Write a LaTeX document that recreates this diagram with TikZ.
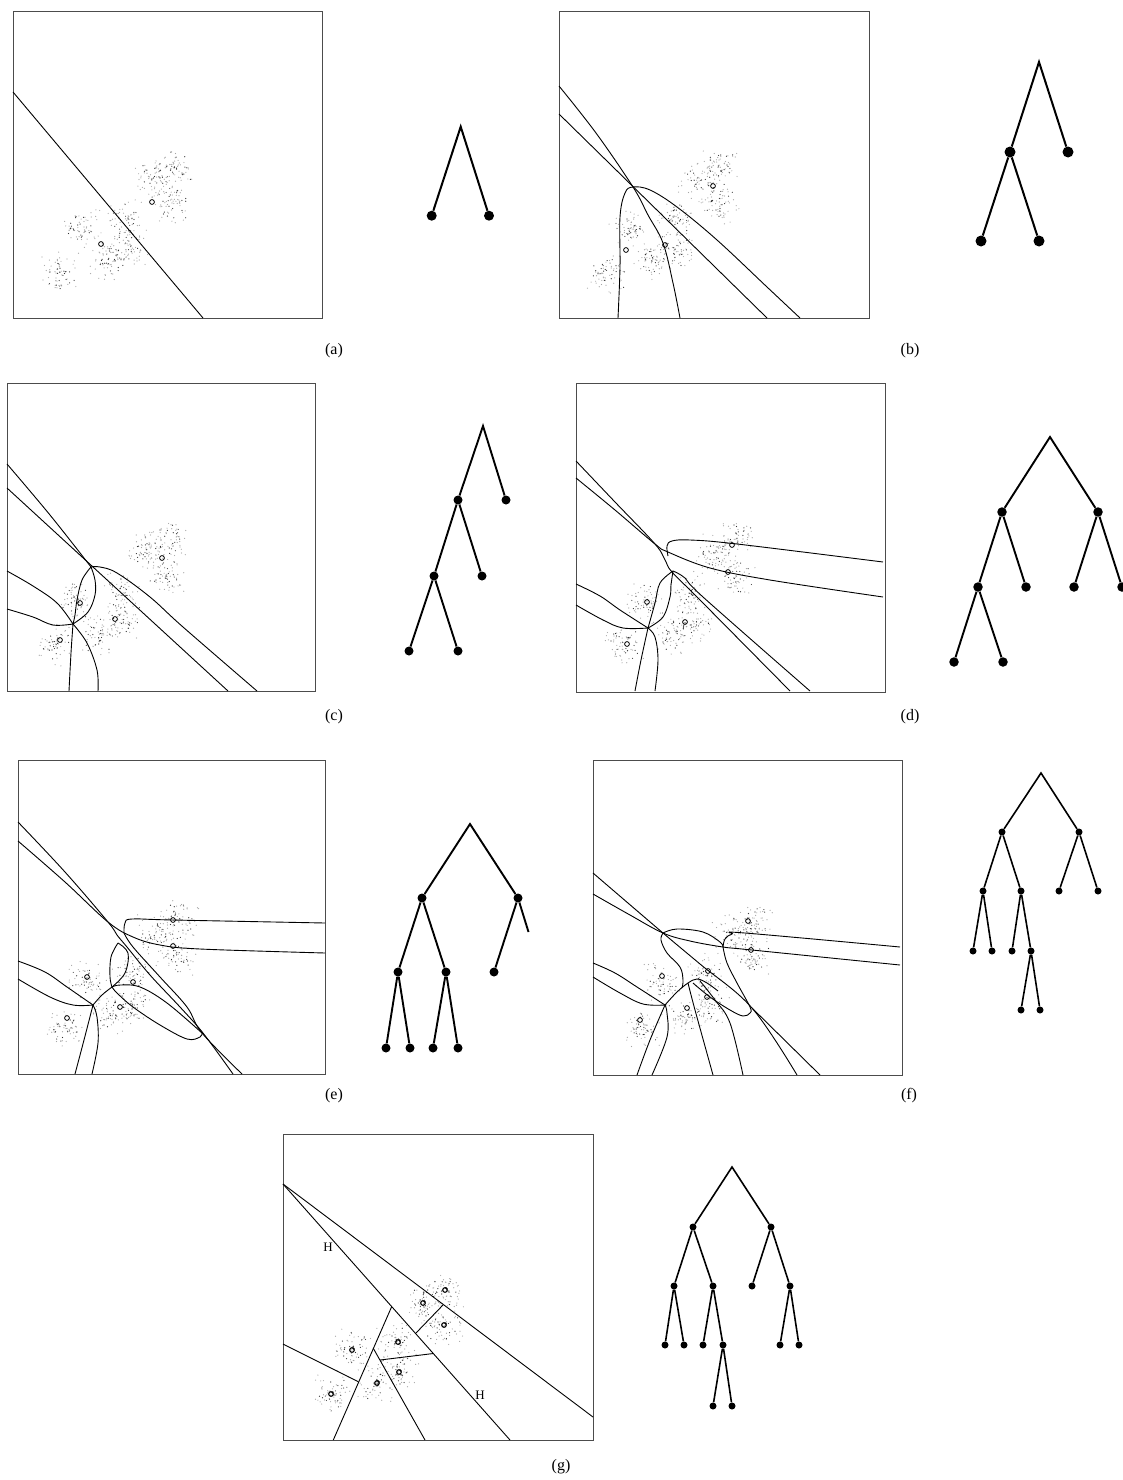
\documentclass[tikz,border=0pt]{standalone}
\usepackage{fontspec}
\setmainfont{Liberation Serif}
\tikzset{
  frame/.style={draw=black!70, line width=0.8pt},
  bnd/.style={line width=0.9pt, black},
  tdot/.style={circle, fill=black, inner sep=0pt, minimum size=#1},
  tdot/.default=9pt,
  tedge/.style={line width=#1, black},
  tedge/.default=1.9pt,
  proto/.style={line width=0.8pt, black},
  caplab/.style={font=\fontsize{16}{18}\selectfont, inner sep=0pt},
  hlab/.style={font=\fontsize{13}{15}\selectfont, inner sep=0pt},
}
\newcommand{\mycloud}[5]{%
  \pgfmathsetseed{#5}%
  \foreach \rx/\ry in {0.523/0.51,0.452/0.552,0.519/0.624,0.371/0.68,0.223/0.706,0.374/0.778,0.303/0.814,0.155/0.85}{%
    \fill[black!35] foreach \i in {1,...,45}{({#1+\rx*#3+11*(rand+rand)},{#2+\ry*#4+11*(rand+rand)}) circle[radius=0.6pt]};
    \fill[black!80] foreach \i in {1,...,20}{({#1+\rx*#3+9*(rand+rand)},{#2+\ry*#4+9*(rand+rand)}) circle[radius=0.6pt]};
  }%
}
\begin{document}
\begin{tikzpicture}[x=1pt,y=-1pt]
\useasboundingbox (0,0) rectangle (1122,1480);
\fill[white] (0,0) rectangle (1122,1480);

% ================= (a) =================
\mycloud{13}{11}{309}{307}{11}
\draw[frame] (13,11) rectangle (322,318);
\draw[bnd] (13,92) -- (203,318);
\foreach \p in {(152,202),(101,244)} \draw[proto] \p circle[radius=2.4pt];
\coordinate (ar) at (460.7,126.7);
\node[tdot=10pt] (a1) at (431.7,215.7) {};
\node[tdot=10pt] (a2) at (489,215.7) {};
\draw[tedge=2pt] (a1) -- (ar) -- (a2);
\node[caplab] (capa) at (334,351) {(a)};

% ================= (b) =================
\mycloud{559}{11}{310}{307}{22}
\draw[frame] (559,11) rectangle (869,318);
\draw[bnd] (559,114) -- (767,318);
\draw[bnd] plot[smooth, tension=0.6] coordinates {(559,86) (596,133) (633,187) (648,215) (663,243) (673,283) (680,318)};
\draw[bnd] plot[smooth, tension=0.6] coordinates {(618,318) (620,267) (620,217) (625,193) (633,187) (650,190) (677,207) (717,240) (767,287) (800,318)};
\foreach \p in {(713,186),(665,245),(626,250)} \draw[proto] \p circle[radius=2.4pt];
\coordinate (br) at (1039,62);
\node[tdot=11pt] (b1) at (1010,152) {};
\node[tdot=11pt] (b2) at (1068,152) {};
\node[tdot=11pt] (b11) at (981,241) {};
\node[tdot=11pt] (b12) at (1039,241) {};
\draw[tedge=2pt] (b1) -- (br) -- (b2);
\draw[tedge=2pt] (b11) -- (b1) -- (b12);
\node[caplab] (capb) at (910,351) {(b)};

% ================= (c) =================
\mycloud{7}{383}{308}{308}{33}
\draw[frame] (7,383) rectangle (315,691);
\draw[bnd] (7,488) -- (228,691);
\draw[bnd] plot[smooth, tension=0.6] coordinates {(7,464) (50,515) (91,567)};
\draw[bnd] plot[smooth, tension=0.6] coordinates {(91,567) (100,567) (117,573) (150,597) (183,627) (257,691)};
\draw[bnd] plot[smooth, tension=0.6] coordinates {(91,567) (82,580) (77,600) (75,615) (73,624)};
\draw[bnd] plot[smooth, tension=0.6] coordinates {(91,567) (95,580) (95,595) (88,612) (73,624)};
\draw[bnd] plot[smooth, tension=0.6] coordinates {(7,571) (33,586) (57,603) (73,624)};
\draw[bnd] plot[smooth, tension=0.6] coordinates {(7,609) (33,617) (53,625) (73,624)};
\draw[bnd] plot[smooth, tension=0.6] coordinates {(73,624) (71,653) (69,691)};
\draw[bnd] plot[smooth, tension=0.6] coordinates {(73,624) (87,643) (97,670) (98,691)};
\foreach \p in {(162,558),(80,603),(115,619),(60,640)} \draw[proto] \p circle[radius=2.4pt];
\coordinate (cr) at (483,426);
\node[tdot] (c1) at (458,500) {};
\node[tdot] (c2) at (506,500) {};
\node[tdot] (c11) at (434,576) {};
\node[tdot] (c12) at (482,576) {};
\node[tdot] (c111) at (409,651) {};
\node[tdot] (c112) at (458,651) {};
\draw[tedge] (c1) -- (cr) -- (c2);
\draw[tedge] (c11) -- (c1) -- (c12);
\draw[tedge] (c111) -- (c11) -- (c112);
\node[caplab] (capc) at (334,717) {(c)};

% ================= (d) =================
\mycloud{576}{383}{309}{309}{44}
\draw[frame] (576,383) rectangle (885,692);
\draw[bnd] plot[smooth, tension=0.6] coordinates {(576,461) (615,502) (655,544) (665,560) (672,572) (700,600) (790,691)};
\draw[bnd] plot[smooth, tension=0.6] coordinates {(576,478) (615,510) (655,544) (668,552) (710,568) (770,580) (883,597)};
\draw[bnd] plot[smooth, tension=0.6] coordinates {(668,556) (667,546) (672,541) (690,540) (737,544) (883,562)};
\draw[bnd] plot[smooth, tension=0.6] coordinates {(673,571) (660,583) (655,603) (648,628)};
\draw[bnd] plot[smooth, tension=0.6] coordinates {(673,571) (671,585) (670,597) (663,617) (648,628)};
\draw[bnd] plot[smooth, tension=0.6] coordinates {(673,571) (685,578) (703,597) (810,691)};
\draw[bnd] plot[smooth, tension=0.6] coordinates {(648,628) (641,660) (635,691)};
\draw[bnd] plot[smooth, tension=0.6] coordinates {(648,628) (655,637) (658,660) (655,691)};
\draw[bnd] plot[smooth, tension=0.6] coordinates {(576,584) (600,596) (620,610) (648,628)};
\draw[bnd] plot[smooth, tension=0.6] coordinates {(576,605) (603,620) (623,628) (648,628)};
\foreach \p in {(732,545),(728,572),(647,602),(685,622),(627,644)} \draw[proto] \p circle[radius=2.4pt];
\coordinate (dr) at (1050,437);
\node[tdot=9.5pt] (d1) at (1002,512) {};
\node[tdot=9.5pt] (d2) at (1098,512) {};
\node[tdot=9.5pt] (d11) at (978,587) {};
\node[tdot=9.5pt] (d12) at (1026,587) {};
\node[tdot=9.5pt] (d21) at (1074,587) {};
\node[tdot=9.5pt] (d22) at (1122,587) {};
\node[tdot=9.5pt] (d111) at (954,662) {};
\node[tdot=9.5pt] (d112) at (1003,662) {};
\draw[tedge] (d1) -- (dr) -- (d2);
\draw[tedge] (d11) -- (d1) -- (d12);
\draw[tedge] (d21) -- (d2) -- (d22);
\draw[tedge] (d111) -- (d11) -- (d112);
\node[caplab] (capd) at (910,717) {(d)};

% ================= (e) =================
\mycloud{18}{760}{307}{314}{55}
\draw[frame] (18,760) rectangle (325,1074);
\draw[bnd] plot[smooth, tension=0.6] coordinates {(18,822) (65,872) (108,922) (117,935) (127,947) (150,975) (180,1007) (203,1033) (233,1074)};
\draw[bnd] plot[smooth, tension=0.6] coordinates {(18,841) (65,882) (108,922) (133,937) (160,945) (200,949) (325,953)};
\draw[bnd] plot[smooth, tension=0.6] coordinates {(124,933) (125,923) (132,919) (173,920) (325,923)};
\draw[bnd] plot[smooth, tension=0.6] coordinates {(124,933) (133,947) (160,977) (187,1007) (202,1033) (242,1074)};
\draw[bnd] plot[smooth, tension=0.6] coordinates {(118,943) (111,957) (110,977) (112,987)};
\draw[bnd] plot[smooth, tension=0.6] coordinates {(118,943) (128,953) (125,973) (112,987)};
\draw[bnd] plot[smooth, tension=0.6] coordinates {(112,987) (120,985) (140,987) (167,1003) (202,1033)};
\draw[bnd] plot[smooth, tension=0.6] coordinates {(112,987) (117,993) (133,1007) (160,1025) (187,1039) (200,1037) (202,1033)};
\draw[bnd] plot[smooth, tension=0.6] coordinates {(18,961) (45,972) (67,987) (93,1005)};
\draw[bnd] plot[smooth, tension=0.6] coordinates {(18,979) (50,997) (73,1005) (93,1005)};
\draw[bnd] plot[smooth, tension=0.6] coordinates {(93,1005) (102,995) (112,987)};
\draw[bnd] plot[smooth, tension=0.6] coordinates {(93,1005) (84,1040) (75,1074)};
\draw[bnd] plot[smooth, tension=0.6] coordinates {(93,1005) (97,1017) (98,1043) (92,1074)};
\foreach \p in {(173,920),(173,946),(87,977),(133,982),(120,1007),(67,1018)} \draw[proto] \p circle[radius=2.4pt];
\coordinate (er) at (470,824);
\node[tdot] (e1) at (422,898) {};
\node[tdot] (e2) at (518,898) {};
\node[tdot] (e11) at (398,972) {};
\node[tdot] (e12) at (446,972) {};
\node[tdot] (e21) at (494,972) {};
\coordinate (e22) at (528.5,932);
\node[tdot] (e111) at (386,1048) {};
\node[tdot] (e112) at (410,1048) {};
\node[tdot] (e121) at (433,1048) {};
\node[tdot] (e122) at (458,1048) {};
\draw[tedge] (e1) -- (er) -- (e2);
\draw[tedge] (e11) -- (e1) -- (e12);
\draw[tedge] (e21) -- (e2) -- (e22);
\draw[tedge] (e111) -- (e11) -- (e112);
\draw[tedge] (e121) -- (e12) -- (e122);
\node[caplab] (cape) at (334,1096) {(e)};

% ================= (f) =================
\mycloud{593}{760}{309}{315}{66}
\draw[frame] (593,760) rectangle (902,1075);
\draw[bnd] plot[smooth, tension=0.6] coordinates {(593,873) (663,933) (700,964) (752,1008) (797,1075)};
\draw[bnd] (752,1008) -- (820,1075);
\draw[bnd] plot[smooth, tension=0.6] coordinates {(593,894) (630,915) (663,933) (690,941) (723,947) (752,950) (900,965)};
\draw[bnd] plot[smooth, tension=0.6] coordinates {(723,947) (725,939) (732,934) (745,933) (900,947)};
\draw[bnd] plot[smooth, tension=0.6] coordinates {(663,933) (661,940) (667,953) (680,967) (683,980) (682,988)};
\draw[bnd] plot[smooth, tension=0.6] coordinates {(663,933) (677,929) (703,932) (720,942) (723,947)};
\draw[bnd] plot[smooth, tension=0.6] coordinates {(723,947) (727,963) (737,983) (750,1007) (750,1013) (743,1016) (730,1010) (710,997) (693,983)};
\draw[bnd] plot[smooth, tension=0.6] coordinates {(593,963) (615,973) (637,987) (665,1005)};
\draw[bnd] plot[smooth, tension=0.6] coordinates {(593,977) (620,993) (643,1004) (665,1005)};
\draw[bnd] plot[smooth, tension=0.6] coordinates {(665,1005) (677,992) (688,983) (697,979) (707,983) (718,991)};
\draw[bnd] plot[smooth, tension=0.6] coordinates {(688,983) (695,1010) (713,1075)};
\draw[bnd] plot[smooth, tension=0.6] coordinates {(700,981) (715,1000) (730,1023) (743,1075)};
\draw[bnd] plot[smooth, tension=0.6] coordinates {(665,1005) (650,1040) (637,1075)};
\draw[bnd] plot[smooth, tension=0.6] coordinates {(665,1005) (667,1013) (667,1037) (652,1075)};
\foreach \p in {(748,921),(751,950),(708,971),(662,976),(707,997),(687,1008),(640,1020)} \draw[proto] \p circle[radius=2.4pt];
\coordinate (fr) at (1041,773);
\node[tdot=7pt] (f1) at (1002,832) {};
\node[tdot=7pt] (f2) at (1079,832) {};
\node[tdot=7pt] (f11) at (983,891) {};
\node[tdot=7pt] (f12) at (1021,891) {};
\node[tdot=7pt] (f21) at (1059,891) {};
\node[tdot=7pt] (f22) at (1098,891) {};
\node[tdot=7pt] (f111) at (973,951) {};
\node[tdot=7pt] (f112) at (992,951) {};
\node[tdot=7pt] (f121) at (1012,951) {};
\node[tdot=7pt] (f122) at (1031,951) {};
\node[tdot=7pt] (f1221) at (1021,1010) {};
\node[tdot=7pt] (f1222) at (1040,1010) {};
\draw[tedge=1.6pt] (f1) -- (fr) -- (f2);
\draw[tedge=1.6pt] (f11) -- (f1) -- (f12);
\draw[tedge=1.6pt] (f21) -- (f2) -- (f22);
\draw[tedge=1.6pt] (f111) -- (f11) -- (f112);
\draw[tedge=1.6pt] (f121) -- (f12) -- (f122);
\draw[tedge=1.6pt] (f1221) -- (f122) -- (f1222);
\node[caplab] (capf) at (909,1096) {(f)};

% ================= (g) =================
\mycloud{283}{1134}{310}{306}{77}
\draw[frame] (283,1134) rectangle (593,1440);
\draw[bnd] (283,1184) -- (593,1417);
\draw[bnd] (283,1184) -- (510,1440);
\draw[bnd] (391.7,1306.6) -- (333.3,1440);
\draw[bnd] (373.3,1348.3) -- (425,1440);
\draw[bnd] (380,1360) -- (433.3,1353.5);
\draw[bnd] (283,1344) -- (358.3,1381.7);
\draw[bnd] (416,1333) -- (443,1305);
\foreach \p in {(445,1290),(423,1303),(444,1325),(398,1342),(352,1350),(399,1372),(377,1383),(331,1394)} {
  \draw[line width=1.1pt] \p circle[radius=2.3pt];
  \fill \p ++(1.5,-1.5) circle[radius=1.2pt];
}
\node[hlab] (h1) at (328,1247) {H};
\node[hlab] (h2) at (480,1395) {H};
\coordinate (gr) at (732,1167);
\node[tdot=7pt] (g1) at (693,1227) {};
\node[tdot=7pt] (g2) at (771,1227) {};
\node[tdot=7pt] (g11) at (674,1286) {};
\node[tdot=7pt] (g12) at (713,1286) {};
\node[tdot=7pt] (g21) at (752,1286) {};
\node[tdot=7pt] (g22) at (790,1286) {};
\node[tdot=7pt] (g111) at (665,1345) {};
\node[tdot=7pt] (g112) at (684,1345) {};
\node[tdot=7pt] (g121) at (703,1345) {};
\node[tdot=7pt] (g122) at (723,1345) {};
\node[tdot=7pt] (g221) at (780,1345) {};
\node[tdot=7pt] (g222) at (799,1345) {};
\node[tdot=7pt] (g1221) at (713,1406) {};
\node[tdot=7pt] (g1222) at (732,1406) {};
\draw[tedge=1.6pt] (g1) -- (gr) -- (g2);
\draw[tedge=1.6pt] (g11) -- (g1) -- (g12);
\draw[tedge=1.6pt] (g21) -- (g2) -- (g22);
\draw[tedge=1.6pt] (g111) -- (g11) -- (g112);
\draw[tedge=1.6pt] (g121) -- (g12) -- (g122);
\draw[tedge=1.6pt] (g221) -- (g22) -- (g222);
\draw[tedge=1.6pt] (g1221) -- (g122) -- (g1222);
\node[caplab] (capg) at (561,1467) {(g)};
\end{tikzpicture}
\end{document}
